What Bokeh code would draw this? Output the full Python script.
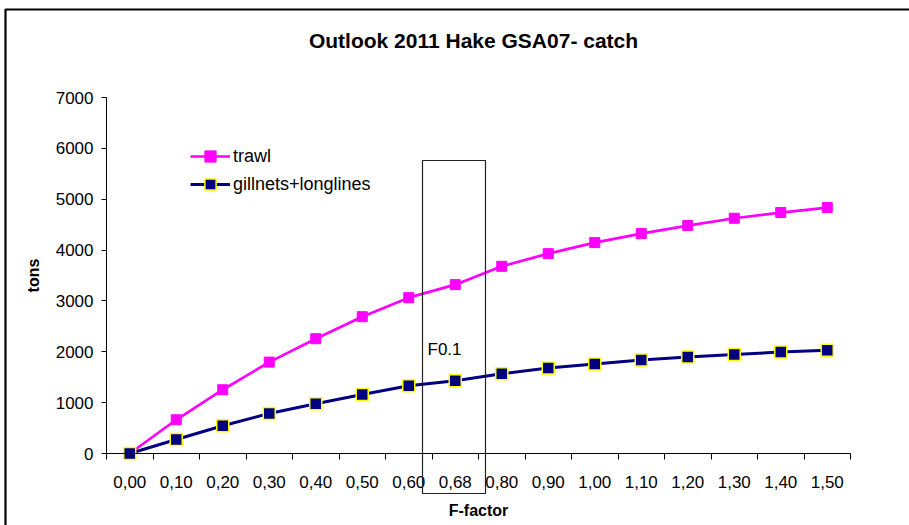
from bokeh.plotting import figure
from bokeh.models import (Range1d, FixedTicker, BoxAnnotation, Label, Legend, LegendItem)
from bokeh.embed import file_html
from bokeh.resources import INLINE

# ---- data ----
f_factor = ["0,00", "0,10", "0,20", "0,30", "0,40", "0,50", "0,60", "0,68",
            "0,80", "0,90", "1,00", "1,10", "1,20", "1,30", "1,40", "1,50"]
trawl = [0, 663, 1254, 1797, 2257, 2690, 3064, 3320,
         3681, 3930, 4147, 4324, 4482, 4626, 4738, 4836]
gillnets = [0, 276, 545, 787, 978, 1161, 1332, 1431,
            1568, 1680, 1759, 1837, 1896, 1949, 1995, 2028]
y_ticks = [0, 1000, 2000, 3000, 4000, 5000, 6000, 7000]
Y_MAX = 7000

FONT = "Liberation Sans"
W, H = 909, 525
# plot-area position on the canvas (px)
AX_L, AX_R, AX_T, AX_B = 106, 850, 97, 453
n = len(f_factor)
xs = [i + 0.5 for i in range(n)]

cat_w = (AX_R - AX_L) / n              # px per category
y_px = (AX_B - AX_T) / Y_MAX           # px per ton

def px2x(px):
    return (px - AX_L) / cat_w
def py2y(py):
    return (AX_B - py) / y_px

p = figure(width=W, height=H, output_backend="svg", toolbar_location=None,
           x_range=Range1d(px2x(0), px2x(W)), y_range=Range1d(py2y(H), py2y(0)),
           min_border=0, min_border_left=0, min_border_right=0,
           min_border_top=0, min_border_bottom=0)
p.outline_line_color = None
p.grid.grid_line_color = None
p.background_fill_color = "white"
p.border_fill_color = "white"

# x axis (drawn at y = 0)
xa = p.xaxis[0]
xa.fixed_location = 0
xa.bounds = (0, n)
xa.ticker = FixedTicker(ticks=xs, minor_ticks=list(range(n + 1)))
xa.major_label_overrides = {x: lab for x, lab in zip(xs, f_factor)}
xa.major_tick_line_color = None
xa.major_tick_out = 0
xa.major_tick_in = 0
xa.minor_tick_out = 6
xa.minor_tick_in = 0
xa.minor_tick_line_color = "black"
xa.axis_line_color = "black"
xa.major_label_text_font = FONT
xa.major_label_text_font_size = "17px"
xa.major_label_text_color = "black"
xa.major_label_standoff = 16
xa.axis_label = "F-factor"
xa.axis_label_text_font = FONT
xa.axis_label_text_font_size = "16px"
xa.axis_label_text_font_style = "bold"
xa.axis_label_text_color = "black"
xa.axis_label_standoff = 11

# y axis (drawn at x = 0)
ya = p.yaxis[0]
ya.fixed_location = 0
ya.bounds = (0, Y_MAX)
ya.ticker = FixedTicker(ticks=y_ticks)
ya.major_label_overrides = {v: str(v) for v in y_ticks}
ya.minor_tick_line_color = None
ya.major_tick_out = 5
ya.major_tick_in = 0
ya.major_tick_line_color = "black"
ya.axis_line_color = "black"
ya.major_label_text_font = FONT
ya.major_label_text_font_size = "17px"
ya.major_label_text_color = "black"
ya.major_label_standoff = 8
ya.axis_label = "tons"
ya.axis_label_text_font = FONT
ya.axis_label_text_font_size = "16px"
ya.axis_label_text_font_style = "bold"
ya.axis_label_text_color = "black"
ya.axis_label_standoff = 11

# series
l1 = p.line(xs, trawl, line_color="#FF00FF", line_width=2.7)
s1 = p.scatter(xs, trawl, marker="square", size=10, fill_color="#FF00FF", line_color="#FF00FF")
l2 = p.line(xs, gillnets, line_color="#000080", line_width=3)
s2 = p.scatter(xs, gillnets, marker="square", size=12, fill_color="#000080",
               line_color="#FFFF00", line_width=1.5)

legend = Legend(items=[LegendItem(label="trawl", renderers=[l1, s1]),
                       LegendItem(label="gillnets+longlines", renderers=[l2, s2])],
                location=(190, H - 198), padding=0, spacing=0, margin=0,
                glyph_width=40, glyph_height=28, label_standoff=3,
                label_text_font=FONT, label_text_font_size="18px", label_text_color="black",
                border_line_color=None, background_fill_alpha=0)
p.add_layout(legend, "center")

# F0.1 box
p.add_layout(BoxAnnotation(left=px2x(422), right=px2x(485), top=py2y(160), bottom=py2y(493),
                           fill_alpha=0, line_color="#222222", line_alpha=1, line_width=1.2))
p.add_layout(Label(x=px2x(427), y=py2y(349), text="F0.1", text_font=FONT,
                   text_font_size="17px", text_color="black", text_baseline="middle"))

# title
p.add_layout(Label(x=px2x(473), y=py2y(40), text="Outlook 2011 Hake GSA07- catch",
                   text_font=FONT, text_font_size="21px", text_font_style="bold",
                   text_color="black", text_align="center", text_baseline="middle"))

# outer chart border (left and top visible)
p.add_layout(BoxAnnotation(left=px2x(5), right=px2x(960), top=py2y(9), bottom=py2y(600),
                           fill_alpha=0, line_color="black", line_alpha=1, line_width=2.2))

open("out.html", "w").write(file_html(p, INLINE))
